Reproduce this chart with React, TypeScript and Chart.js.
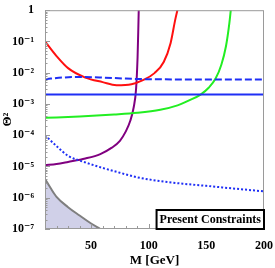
import React, { useEffect, useRef } from "react";
import { Chart, registerables } from "chart.js";
Chart.register(...registerables);

const redM = [10, 20, 30, 45, 60, 72, 85, 95, 105, 113, 119, 123, 126];
const redTheta = [0.1, 0.034, 0.014, 7e-3, 5e-3, 4e-3, 4.3e-3, 5.8e-3, 9.7e-3, 0.022, 0.09, 0.5, 1.5];
const greenM = [10, 40, 70, 90, 110, 125, 135, 145, 152, 158, 163, 167, 170, 172];
const greenTheta = [3.6e-4, 4.0e-4, 4.6e-4, 5.2e-4, 6.5e-4, 9e-4, 1.3e-3, 2e-3, 3.3e-3, 6.5e-3, 0.018, 0.07, 0.4, 2];
const blueM = [10, 200];
const blueTheta = [2e-3, 2e-3];
const dashedM = [10, 25, 40, 60, 80, 100, 150, 200];
const dashedTheta = [6.2e-3, 7.0e-3, 7.3e-3, 7e-3, 6.5e-3, 6.2e-3, 6.1e-3, 6.1e-3];
const purpleM = [10, 20, 30, 45, 58, 68, 75, 80, 84, 87, 89, 90.3, 91, 91.5];
const purpleTheta = [1.1e-5, 1.2e-5, 1.4e-5, 1.8e-5, 2.5e-5, 4e-5, 6.6e-5, 1.3e-4, 2.9e-4, 8e-4, 3e-3, 0.03, 0.3, 2];
const dottedM = [10, 20, 30, 45, 60, 75, 90, 110, 130, 150, 175, 200];
const dottedTheta = [1e-4, 4.5e-5, 2.2e-5, 1.35e-5, 9e-6, 6.3e-6, 4.5e-6, 3.4e-6, 2.8e-6, 2.4e-6, 1.95e-6, 1.6e-6];
const grayM = [10, 15, 20, 30, 40, 50, 58, 65];
const grayTheta = [4e-6, 2e-6, 1.07e-6, 5e-7, 2.7e-7, 1.5e-7, 1e-7, 0.7e-7];

const yTicks = [1e-7, 1e-6, 1e-5, 1e-4, 1e-3, 1e-2, 1e-1, 1];
const yTickLabels = ["10⁻⁷", "10⁻⁶", "10⁻⁵", "10⁻⁴", "10⁻³", "10⁻²", "10⁻¹", "1"];
const xTickLabels = [50, 100, 150, 200];
const legendText = "Present Constraints";

const pts = (xs: number[], ys: number[]) => xs.map((x, i) => ({ x, y: ys[i] }));
const FONT = "'Liberation Serif', 'DejaVu Serif', serif";

const decor = {
  id: "decor",
  afterDatasetsDraw(chart: any) {
    const { ctx, chartArea: a, scales } = chart;
    const x = scales.x, y = scales.y;
    ctx.save();
    ctx.strokeStyle = "#9a9a9a";
    ctx.lineWidth = 1;
    ctx.strokeRect(a.left + 0.5, a.top + 0.5, a.right - a.left - 1, a.bottom - a.top - 1);
    ctx.beginPath();
    for (let m = 10; m <= 200; m += 10) {
      const px = Math.round(x.getPixelForValue(m)) + 0.5;
      const len = m % 50 === 0 ? 5 : 3;
      ctx.moveTo(px, a.bottom);
      ctx.lineTo(px, a.bottom - len);
    }
    for (let e = -7; e <= 0; e++) {
      for (let k = 1; k < 10; k++) {
        const v = k * Math.pow(10, e);
        if (v > 1) break;
        const py = Math.round(y.getPixelForValue(v)) + 0.5;
        const len = k === 1 ? 5 : 2.5;
        ctx.moveTo(a.left, py);
        ctx.lineTo(a.left + len, py);
      }
    }
    ctx.stroke();
    // legend box
    ctx.font = `bold 12px ${FONT}`;
    const w = ctx.measureText(legendText).width;
    const bx = a.right - w - 6, by = a.bottom - 19;
    ctx.fillStyle = "#ffffff";
    ctx.fillRect(bx, by, a.right - bx, a.bottom - by);
    ctx.strokeStyle = "#000";
    ctx.lineWidth = 2;
    ctx.strokeRect(bx, by, a.right - bx, a.bottom - by);
    ctx.fillStyle = "#000";
    ctx.textBaseline = "middle";
    ctx.fillText(legendText, bx + 3, by + 10);
    ctx.restore();
  },
};

export default function App() {
  const ref = useRef<HTMLCanvasElement>(null);
  useEffect(() => {
    document.body.style.margin = "0";
    const line = (data: any, color: string, extra: any = {}) => ({
      data,
      borderColor: color,
      borderWidth: 2,
      pointRadius: 0,
      fill: false,
      tension: 0.4,
      cubicInterpolationMode: "monotone",
      ...extra,
    });
    const chart = new Chart(ref.current!, {
      type: "line",
      data: {
        datasets: [
          line(pts(grayM, grayTheta), "#7f7f7f", { fill: "start", backgroundColor: "rgba(200,200,228,0.85)" }),
          line(pts(dottedM, dottedTheta), "#1f2ff5", { borderDash: [2, 2] }),
          line(pts(blueM, blueTheta), "#1f2ff5", { tension: 0 }),
          line(pts(dashedM, dashedTheta), "#1f2ff5", { borderDash: [7, 3] }),
          line(pts(greenM, greenTheta), "#22ee22"),
          line(pts(redM, redTheta), "#ff1010"),
          line(pts(purpleM, purpleTheta), "#800080"),
        ] as any,
      },
      options: {
        animation: false,
        responsive: false,
        events: [],
        layout: { padding: { top: 8, right: 10, left: 0, bottom: 0 } },
        plugins: { legend: { display: false }, tooltip: { enabled: false } },
        scales: {
          x: {
            type: "linear",
            min: 10,
            max: 200,
            grid: { display: false },
            border: { display: false },
            afterBuildTicks: (s: any) => {
              s.ticks = xTickLabels.map((v) => ({ value: v }));
            },
            afterFit: (s: any) => {
              s.height = 39;
            },
            ticks: { color: "#000", font: { family: FONT, size: 12, weight: "bold" }, padding: 2, maxRotation: 0 },
            title: { display: true, text: "M [GeV]", color: "#000", font: { family: FONT, size: 13, weight: "bold" }, padding: { top: 2, bottom: 0 } },
          },
          y: {
            type: "logarithmic",
            min: 1e-7,
            max: 1,
            grid: { display: false },
            border: { display: false },
            afterBuildTicks: (s: any) => {
              s.ticks = yTicks.map((v) => ({ value: v }));
            },
            afterFit: (s: any) => {
              s.width = 45;
            },
            ticks: {
              color: "#000",
              font: { family: FONT, size: 12, weight: "bold" },
              padding: 3,
              callback: (v: any) => {
                const i = yTicks.findIndex((t) => Math.abs(Math.log10(t) - Math.log10(v)) < 1e-6);
                return i >= 0 ? yTickLabels[i] : "";
              },
            },
            title: { display: true, text: "Θ²", color: "#000", font: { family: FONT, size: 13, weight: "bold" }, padding: { top: 0, bottom: 0 } },
          },
        },
      },
      plugins: [decor],
    } as any);
    return () => chart.destroy();
  }, []);
  return (
    <div style={{ width: 275, height: 268 }}>
      <canvas ref={ref} width={275} height={268} style={{ display: "block" }} />
    </div>
  );
}
